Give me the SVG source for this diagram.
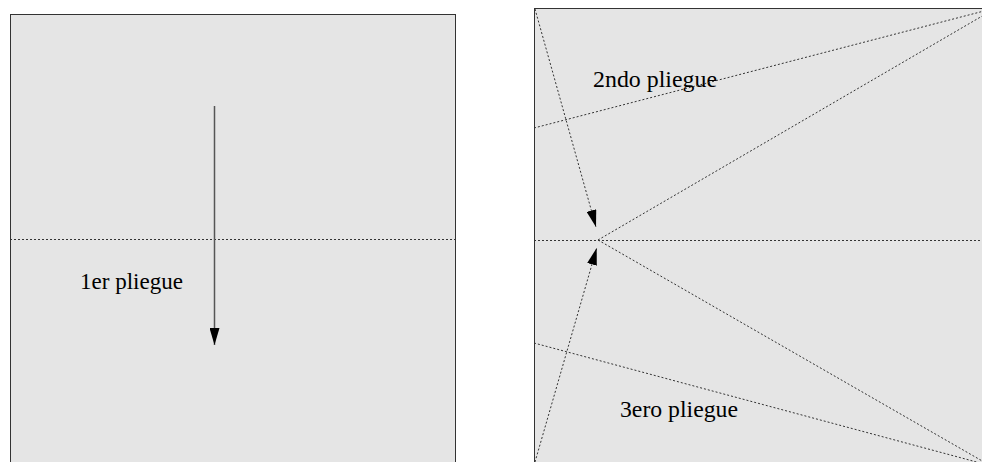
<svg xmlns="http://www.w3.org/2000/svg" width="982" height="462" viewBox="0 0 982 462">
<defs>
<style>
.panel{fill:#e5e5e5;stroke:#333;stroke-width:1}
.fold{fill:none;stroke:#333;stroke-width:1;stroke-dasharray:2,2}
.arrow{fill:none;stroke:#555;stroke-width:1.5}
.lbl{font-family:"Liberation Serif","Times New Roman",serif;font-size:23.5px;fill:#000}
</style>
<marker id="ah" markerUnits="userSpaceOnUse" markerWidth="17" markerHeight="10" refX="17" refY="5" orient="auto">
<path d="M0,0 L17,5 L0,10 z" fill="#000"/>
</marker>
</defs>
<rect width="982" height="462" fill="#fff"/>
<g id="panel-left">
<rect class="panel" x="10.5" y="14.5" width="445" height="470"/>
<text class="lbl" x="80" y="289" textLength="103" lengthAdjust="spacingAndGlyphs">1er pliegue</text>
</g>
<g id="panel-right">
<rect class="panel" x="534.5" y="8.5" width="470" height="470"/>
<text class="lbl" x="593" y="87" textLength="124" lengthAdjust="spacingAndGlyphs">2ndo pliegue</text>
<text class="lbl" x="620" y="417" textLength="118" lengthAdjust="spacingAndGlyphs">3ero pliegue</text>
</g>
<g id="connectors">
<line class="fold" x1="10" y1="239.5" x2="456" y2="239.5"/>
<line class="arrow" x1="214.5" y1="106" x2="214.5" y2="345" marker-end="url(#ah)"/>
<line class="fold" x1="534" y1="240.5" x2="982" y2="240.5"/>
<line class="fold" x1="534" y1="128" x2="984" y2="11"/>
<line class="fold" x1="598" y1="240" x2="984" y2="15"/>
<line class="fold" x1="598" y1="240" x2="984" y2="462"/>
<line class="fold" x1="534" y1="343" x2="984" y2="464"/>
<line class="fold" x1="535" y1="9" x2="596" y2="227" marker-end="url(#ah)"/>
<line class="fold" x1="535" y1="462" x2="596.7" y2="248" marker-end="url(#ah)"/>
</g>
</svg>
